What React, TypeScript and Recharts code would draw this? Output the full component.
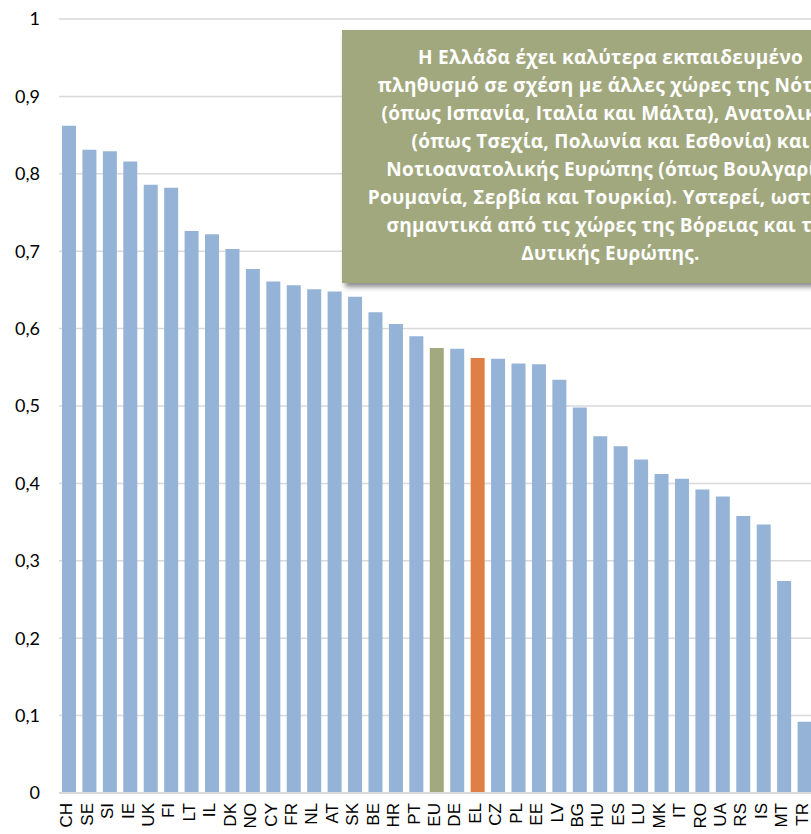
import React from "react";
import { BarChart, Bar, XAxis, YAxis, CartesianGrid, Cell } from "recharts";

// country codes, left to right (chart is cut off after TR)
const countries = [
  "CH", "SE", "SI", "IE", "UK", "FI", "LT", "IL", "DK", "NO",
  "CY", "FR", "NL", "AT", "SK", "BE", "HR", "PT", "EU", "DE",
  "EL", "CZ", "PL", "EE", "LV", "BG", "HU", "ES", "LU", "MK",
  "IT", "RO", "UA", "RS", "IS", "MT", "TR",
];

const values = [
  0.862, 0.831, 0.829, 0.816, 0.786, 0.782, 0.726, 0.722, 0.703, 0.677,
  0.661, 0.656, 0.651, 0.648, 0.641, 0.621, 0.606, 0.59, 0.575, 0.574,
  0.562, 0.561, 0.555, 0.554, 0.534, 0.498, 0.461, 0.448, 0.431, 0.412,
  0.406, 0.392, 0.383, 0.358, 0.347, 0.274, 0.092,
];

const yTicks = [0, 0.1, 0.2, 0.3, 0.4, 0.5, 0.6, 0.7, 0.8, 0.9, 1];

const noteLines = [
  "Η Ελλάδα έχει καλύτερα εκπαιδευμένο",
  "πληθυσμό σε σχέση με άλλες χώρες της Νότιας",
  "(όπως Ισπανία, Ιταλία και Μάλτα), Ανατολικής",
  "(όπως Τσεχία, Πολωνία και Εσθονία) και",
  "Νοτιοανατολικής Ευρώπης (όπως Βουλγαρία,",
  "Ρουμανία, Σερβία και Τουρκία). Υστερεί, ωστόσο,",
  "σημαντικά από τις χώρες της Βόρειας και της",
  "Δυτικής Ευρώπης.",
];

const data = countries.map((c, i) => ({ country: c, value: values[i] }));

const barColor = (c: string) => {
  if (c === "EU") return "#A3A97E";
  if (c === "EL") return "#E07F45";
  return "#95B3D7";
};

const fmt = (v: number) => {
  if (v === 0) return "0";
  if (v === 1) return "1";
  return v.toFixed(1).replace(".", ",");
};

const CountryTick = (props: any) => {
  const { x, y, payload } = props;
  return (
    <g transform={`translate(${x},${y})`}>
      <text
        transform="rotate(-90)"
        x={-10}
        y={0}
        dy={3}
        textAnchor="end"
        fill="#000"
        fontSize={17}
        fontFamily="'Liberation Sans', Arial, sans-serif"
      >
        {payload.value}
      </text>
    </g>
  );
};

export default function App() {
  return (
    <div
      style={{
        position: "fixed",
        left: 0,
        top: 0,
        width: 811,
        height: 834,
        overflow: "hidden",
        background: "#fff",
      }}
    >
      <BarChart
        width={815}
        height={834}
        data={data}
        margin={{ top: 19, right: 0, bottom: 0, left: 0 }}
        barSize={14}
      >
        <CartesianGrid vertical={false} stroke="#d9d9d9" strokeWidth={1.5} />
        <XAxis
          dataKey="country"
          interval={0}
          height={41}
          tickLine={false}
          tickSize={0}
          tickMargin={0}
          axisLine={{ stroke: "#d9d9d9", strokeWidth: 2 }}
          tick={<CountryTick />}
        />
        <YAxis
          domain={[0, 1]}
          ticks={yTicks}
          width={59}
          axisLine={false}
          tickLine={false}
          tickSize={0}
          tickMargin={19}
          tickFormatter={fmt}
          tick={{ fill: "#000", fontSize: 18, fontFamily: "Lato, sans-serif" }}
        />
        <Bar dataKey="value" isAnimationActive={false}>
          {data.map((d) => (
            <Cell key={d.country} fill={barColor(d.country)} />
          ))}
        </Bar>
      </BarChart>
      <div
        style={{
          position: "absolute",
          left: 342,
          top: 30,
          width: 537,
          height: 253,
          boxSizing: "border-box",
          paddingTop: 13,
          background: "#A2A87E",
          boxShadow: "3px 4px 5px rgba(0,0,0,0.45)",
          color: "#fff",
          fontFamily: "'Open Sans', sans-serif",
          fontWeight: 700,
          fontSize: 19,
          letterSpacing: 0.3,
          lineHeight: "28px",
          textAlign: "center",
          whiteSpace: "nowrap",
        }}
      >
        {noteLines.map((l) => (
          <div key={l}>{l}</div>
        ))}
      </div>
    </div>
  );
}
